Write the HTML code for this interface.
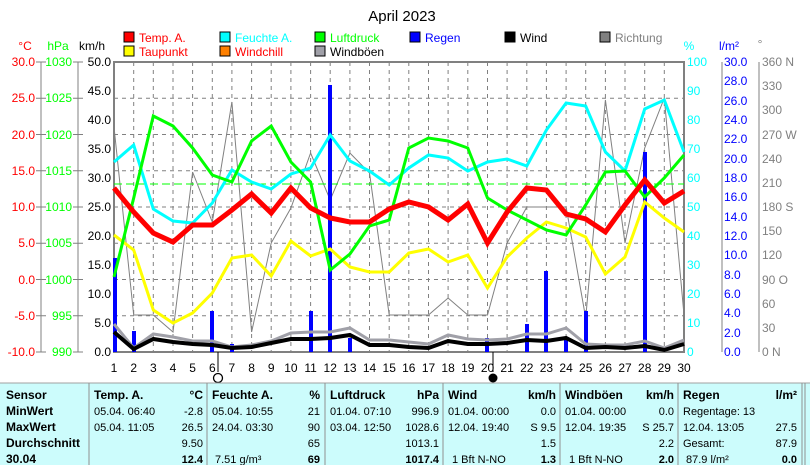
<!DOCTYPE html>
<html><head><meta charset="utf-8"><style>
body{margin:0;background:#fff;width:810px;height:465px;overflow:hidden;font-family:"Liberation Sans",sans-serif}
svg{position:absolute;left:0;top:0}
</style></head><body>
<svg width="810" height="465" viewBox="0 0 810 465" font-family="Liberation Sans, sans-serif" font-size="12">
<text x="402" y="21" font-size="15" text-anchor="middle">April 2023</text>
<g font-size="12">
<rect x="124" y="32" width="10" height="10" fill="#f00" stroke="#000"/><text x="139" y="42" fill="#f00">Temp. A.</text>
<rect x="220" y="32" width="10" height="10" fill="#0ff" stroke="#000"/><text x="235" y="42" fill="#0ff">Feuchte A.</text>
<rect x="315" y="32" width="10" height="10" fill="#0f0" stroke="#000"/><text x="330" y="42" fill="#0f0">Luftdruck</text>
<rect x="410" y="32" width="10" height="10" fill="#00f" stroke="#000"/><text x="425" y="42" fill="#00f">Regen</text>
<rect x="505" y="32" width="10" height="10" fill="#000" stroke="#000"/><text x="520" y="42">Wind</text>
<rect x="600" y="32" width="10" height="10" fill="#808080" stroke="#000"/><text x="615" y="42" fill="#808080">Richtung</text>
<rect x="124" y="46" width="10" height="10" fill="#ff0" stroke="#000"/><text x="139" y="56" fill="#f00">Taupunkt</text>
<rect x="220" y="46" width="10" height="10" fill="#ff8000" stroke="#000"/><text x="235" y="56" fill="#f00">Windchill</text>
<rect x="315" y="46" width="10" height="10" fill="#a0a0a8" stroke="#000"/><text x="330" y="56">Windböen</text>
</g>
<text x="25" y="50" fill="#f00" text-anchor="middle">°C</text>
<text x="58" y="50" fill="#0f0" text-anchor="middle">hPa</text>
<text x="92" y="50" text-anchor="middle">km/h</text>
<text x="689" y="50" fill="#0ff" text-anchor="middle">%</text>
<text x="729" y="50" fill="#00f" text-anchor="middle">l/m²</text>
<text x="760" y="48" fill="#808080" text-anchor="middle">°</text>
<g stroke="#808080" stroke-dasharray="4,4" stroke-width="1">
<path d="M114 98.25H684M114 134.5H684M114 170.75H684M114 207H684M114 243.25H684M114 279.5H684M114 315.75H684"/>
<path d="M133.7 62V352M153.3 62V352M173 62V352M192.6 62V352M212.3 62V352M231.9 62V352M251.6 62V352M271.2 62V352M290.9 62V352M310.6 62V352M330.2 62V352M349.9 62V352M369.5 62V352M389.2 62V352M408.8 62V352M428.5 62V352M448.1 62V352M467.8 62V352M487.5 62V352M507.1 62V352M526.8 62V352M546.4 62V352M566.1 62V352M585.7 62V352M605.4 62V352M625 62V352M644.7 62V352M664.3 62V352"/>
</g>
<rect x="114" y="62" width="570" height="290" fill="none" stroke="#808080" stroke-width="2"/>
<g stroke="#808080" stroke-width="1">
<path d="M41 62V352M78 62V352M722 62V352M759 62V352"/>
</g>
<g font-size="12" text-anchor="end">
<g fill="#f00">
<text x="35" y="66">30.0</text><text x="35" y="102">25.0</text><text x="35" y="139">20.0</text><text x="35" y="175">15.0</text><text x="35" y="211">10.0</text><text x="35" y="247">5.0</text><text x="35" y="284">0.0</text><text x="35" y="320">-5.0</text><text x="35" y="356">-10.0</text>
</g>
<g fill="#0f0">
<text x="72" y="66">1030</text><text x="72" y="102">1025</text><text x="72" y="139">1020</text><text x="72" y="175">1015</text><text x="72" y="211">1010</text><text x="72" y="247">1005</text><text x="72" y="284">1000</text><text x="72" y="320">995</text><text x="72" y="356">990</text>
</g>
<g fill="#000">
<text x="111" y="66">50.0</text><text x="111" y="95">45.0</text><text x="111" y="124">40.0</text><text x="111" y="153">35.0</text><text x="111" y="182">30.0</text><text x="111" y="211">25.0</text><text x="111" y="240">20.0</text><text x="111" y="269">15.0</text><text x="111" y="298">10.0</text><text x="111" y="327">5.0</text><text x="111" y="356">0.0</text>
</g>
</g>
<g stroke="#808080"><path d="M36 62h10M36 98.25h10M36 134.5h10M36 170.75h10M36 207h10M36 243.25h10M36 279.5h10M36 315.75h10M36 352h10M73 62h10M73 98.25h10M73 134.5h10M73 170.75h10M73 207h10M73 243.25h10M73 279.5h10M73 315.75h10M73 352h10"/></g>
<g font-size="12">
<g fill="#0ff">
<text x="687" y="66">100</text><text x="687" y="95">90</text><text x="687" y="124">80</text><text x="687" y="153">70</text><text x="687" y="182">60</text><text x="687" y="211">50</text><text x="687" y="240">40</text><text x="687" y="269">30</text><text x="687" y="298">20</text><text x="687" y="327">10</text><text x="687" y="356">0</text>
</g>
<g fill="#00f">
<text x="724" y="66">30.0</text><text x="724" y="85">28.0</text><text x="724" y="105">26.0</text><text x="724" y="124">24.0</text><text x="724" y="143">22.0</text><text x="724" y="163">20.0</text><text x="724" y="182">18.0</text><text x="724" y="201">16.0</text><text x="724" y="221">14.0</text><text x="724" y="240">12.0</text><text x="724" y="259">10.0</text><text x="724" y="279">8.0</text><text x="724" y="298">6.0</text><text x="724" y="317">4.0</text><text x="724" y="337">2.0</text><text x="724" y="356">0.0</text>
</g>
<g fill="#808080">
<text x="762" y="66">360 N</text><text x="762" y="90">330</text><text x="762" y="114">300</text><text x="762" y="139">270 W</text><text x="762" y="163">240</text><text x="762" y="187">210</text><text x="762" y="211">180 S</text><text x="762" y="235">150</text><text x="762" y="259">120</text><text x="762" y="284">90  O</text><text x="762" y="308">60</text><text x="762" y="332">30</text><text x="762" y="356">0   N</text>
</g>
</g>
<polyline fill="none" stroke="#808080" stroke-width="1" points="114,127 133.7,315 153.3,315 173,332 192.6,172 212.3,222 231.9,102 251.6,332 271.2,243 290.9,208 310.6,153 330.2,200 349.9,153 369.5,173 389.2,315 408.8,315 428.5,315 448.1,298 467.8,315 487.5,315 507.1,243 526.8,207 546.4,207 566.1,207 585.7,318 605.4,100 625,243 644.7,148 664.3,98 684,315"/>
<line x1="114" y1="184" x2="684" y2="184" stroke="#0f0" stroke-width="1" stroke-dasharray="8,4"/>
<g fill="#00f">
<rect x="113" y="258" width="4" height="94"/><rect x="132" y="331" width="4" height="21"/><rect x="210" y="311" width="4" height="41"/><rect x="230" y="344" width="4" height="8"/><rect x="309" y="311" width="4" height="41"/><rect x="328" y="85" width="4" height="267"/><rect x="348" y="338" width="4" height="14"/><rect x="485" y="338" width="4" height="14"/><rect x="525" y="324" width="4" height="28"/><rect x="544" y="271" width="4" height="81"/><rect x="564" y="338" width="4" height="14"/><rect x="584" y="311" width="4" height="41"/><rect x="643" y="152" width="4" height="200"/>
</g>
<polyline fill="none" stroke="#a0a0a8" stroke-width="3" points="114,324 133.7,348 153.3,334 173,337 192.6,341 212.3,341 231.9,347 251.6,345 271.2,341 290.9,333 310.6,332 330.2,332 349.9,328 369.5,340 389.2,340 408.8,342 428.5,344 448.1,335 467.8,339 487.5,340 507.1,339 526.8,334 546.4,334 566.1,328 585.7,344 605.4,345 625,345 644.7,341 664.3,348 684,340"/>
<polyline fill="none" stroke="#000" stroke-width="4" points="114,332 133.7,349 153.3,339 173,342 192.6,344 212.3,345 231.9,348 251.6,347 271.2,343 290.9,339 310.6,339 330.2,338 349.9,335 369.5,345 389.2,345 408.8,347 428.5,348 448.1,341 467.8,344 487.5,344 507.1,343 526.8,340 546.4,341 566.1,338 585.7,348 605.4,347 625,348 644.7,346 664.3,350 684,344"/>
<polyline fill="none" stroke="#ff0" stroke-width="3" points="114,235 133.7,250 153.3,310 173,323 192.6,313 212.3,293 231.9,258 251.6,255 271.2,276 290.9,241 310.6,256 330.2,249 349.9,267 369.5,272 389.2,272 408.8,253 428.5,249 448.1,262 467.8,255 487.5,288 507.1,257 526.8,238 546.4,222 566.1,228 585.7,237 605.4,274 625,257 644.7,202 664.3,218 684,232"/>
<polyline fill="none" stroke="#0ff" stroke-width="3" points="114,162 133.7,145 153.3,209 173,221 192.6,223 212.3,203 231.9,170 251.6,182 271.2,189 290.9,174 310.6,168 330.2,135 349.9,161 369.5,171 389.2,185 408.8,168 428.5,155 448.1,158 467.8,171 487.5,162 507.1,159 526.8,166 546.4,130 566.1,103 585.7,106 605.4,152 625,171 644.7,109 664.3,100 684,152"/>
<polyline fill="none" stroke="#0f0" stroke-width="3" points="114,277 133.7,198 153.3,116 173,126 192.6,148 212.3,175 231.9,182 251.6,141 271.2,126 290.9,162 310.6,182 330.2,270 349.9,254 369.5,226 389.2,220 408.8,148 428.5,138 448.1,141 467.8,148 487.5,198 507.1,210 526.8,220 546.4,230 566.1,235 585.7,205 605.4,172 625,171 644.7,197 664.3,178 684,155"/>
<polyline fill="none" stroke="#f00" stroke-width="5" points="114,188 133.7,212 153.3,233 173,242 192.6,225 212.3,225 231.9,210 251.6,194 271.2,213 290.9,188 310.6,208 330.2,218 349.9,222 369.5,222 389.2,209 408.8,202 428.5,207 448.1,220 467.8,204 487.5,243 507.1,212 526.8,188 546.4,190 566.1,214 585.7,219 605.4,232 625,205 644.7,180 664.3,203 684,191"/>
<g font-size="12" text-anchor="middle">
<text x="114" y="372">1</text><text x="133.7" y="372">2</text><text x="153.3" y="372">3</text><text x="173" y="372">4</text><text x="192.6" y="372">5</text><text x="212.3" y="372">6</text><text x="231.9" y="372">7</text><text x="251.6" y="372">8</text><text x="271.2" y="372">9</text><text x="290.9" y="372">10</text><text x="310.6" y="372">11</text><text x="330.2" y="372">12</text><text x="349.9" y="372">13</text><text x="369.5" y="372">14</text><text x="389.2" y="372">15</text><text x="408.8" y="372">16</text><text x="428.5" y="372">17</text><text x="448.1" y="372">18</text><text x="467.8" y="372">19</text><text x="487.5" y="372">20</text><text x="507.1" y="372">21</text><text x="526.8" y="372">22</text><text x="546.4" y="372">23</text><text x="566.1" y="372">24</text><text x="585.7" y="372">25</text><text x="605.4" y="372">26</text><text x="625" y="372">27</text><text x="644.7" y="372">28</text><text x="664.3" y="372">29</text><text x="684" y="372">30</text>
</g>
<line x1="218" y1="352" x2="218" y2="372" stroke="#000"/><circle cx="218" cy="378" r="4.5" fill="none" stroke="#000" stroke-width="1.3"/>
<line x1="493" y1="352" x2="493" y2="372" stroke="#000"/><circle cx="493" cy="378" r="4.5" fill="#000"/>
<rect x="0" y="383" width="810" height="82" fill="#ccfcfc"/>
<line x1="0" y1="383" x2="810" y2="383" stroke="#a0a0a0"/>
<g stroke="#909090"><path d="M89 383V465M207 383V465M325 383V465M443 383V465M560 383V465M678 383V465M802 383V465M805 383V465"/></g>
<g font-family="Liberation Sans Narrow, Liberation Sans, sans-serif" font-size="11">
<g font-weight="bold" font-size="12">
<text x="6" y="399">Sensor</text><text x="6" y="415">MinWert</text><text x="6" y="431">MaxWert</text><text x="6" y="447">Durchschnitt</text><text x="6" y="463">30.04</text>
<text x="94" y="399">Temp. A.</text><text x="203" y="399" text-anchor="end">°C</text>
<text x="212" y="399">Feuchte A.</text><text x="320" y="399" text-anchor="end">%</text>
<text x="330" y="399">Luftdruck</text><text x="439" y="399" text-anchor="end">hPa</text>
<text x="448" y="399">Wind</text><text x="556" y="399" text-anchor="end">km/h</text>
<text x="565" y="399">Windböen</text><text x="674" y="399" text-anchor="end">km/h</text>
<text x="683" y="399">Regen</text><text x="797" y="399" text-anchor="end">l/m²</text>
</g>
<text x="94" y="415">05.04.  06:40</text><text x="203" y="415" text-anchor="end">-2.8</text>
<text x="94" y="431">05.04.  11:05</text><text x="203" y="431" text-anchor="end">26.5</text>
<text x="203" y="447" text-anchor="end">9.50</text>
<text x="203" y="463" text-anchor="end" font-weight="bold">12.4</text>
<text x="212" y="415">05.04.  10:55</text><text x="320" y="415" text-anchor="end">21</text>
<text x="212" y="431">24.04.  03:30</text><text x="320" y="431" text-anchor="end">90</text>
<text x="320" y="447" text-anchor="end">65</text>
<text x="215" y="463">7.51 g/m³</text><text x="320" y="463" text-anchor="end" font-weight="bold">69</text>
<text x="330" y="415">01.04.  07:10</text><text x="439" y="415" text-anchor="end">996.9</text>
<text x="330" y="431">03.04.  12:50</text><text x="439" y="431" text-anchor="end">1028.6</text>
<text x="439" y="447" text-anchor="end">1013.1</text>
<text x="439" y="463" text-anchor="end" font-weight="bold">1017.4</text>
<text x="448" y="415">01.04.  00:00</text><text x="556" y="415" text-anchor="end">0.0</text>
<text x="448" y="431">12.04.  19:40</text><text x="556" y="431" text-anchor="end">S 9.5</text>
<text x="556" y="447" text-anchor="end">1.5</text>
<text x="452" y="463">1 Bft N-NO</text><text x="556" y="463" text-anchor="end" font-weight="bold">1.3</text>
<text x="565" y="415">01.04.  00:00</text><text x="674" y="415" text-anchor="end">0.0</text>
<text x="565" y="431">12.04.  19:35</text><text x="674" y="431" text-anchor="end">S 25.7</text>
<text x="674" y="447" text-anchor="end">2.2</text>
<text x="569" y="463">1 Bft N-NO</text><text x="674" y="463" text-anchor="end" font-weight="bold">2.0</text>
<text x="683" y="415">Regentage: 13</text>
<text x="683" y="431">12.04.  13:05</text><text x="797" y="431" text-anchor="end">27.5</text>
<text x="683" y="447">Gesamt:</text><text x="797" y="447" text-anchor="end">87.9</text>
<text x="686" y="463">87.9 l/m²</text><text x="797" y="463" text-anchor="end" font-weight="bold">0.0</text>
</g>
</svg>
</body></html>
